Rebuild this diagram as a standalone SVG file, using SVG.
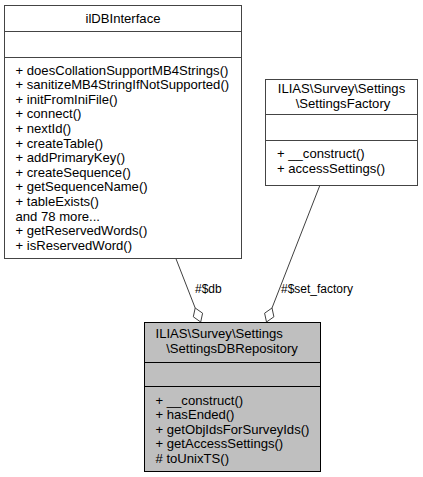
<svg xmlns="http://www.w3.org/2000/svg" width="423" height="477" viewBox="0 0 423 477">
<style>
text{font-family:"Liberation Sans",Arial,sans-serif;font-size:13.1px;fill:#000}
.box{fill:#fff;stroke:#444;stroke-width:1}
.main{fill:#bfbfbf;stroke:#000;stroke-width:1}
.div{stroke:#444;stroke-width:1}
.divm{stroke:#000;stroke-width:1}
.c{text-anchor:middle}
.edge{stroke:#404040;stroke-width:1;fill:none}
.dia{stroke:#404040;stroke-width:1;fill:#fff}
.lbl{font-size:12px}
</style>
<rect width="423" height="477" fill="#fff"/>
<g id="connectors">
<path class="edge" d="M175.7,258 L195.2,308"/>
<polygon class="dia" points="195.2,308 202.6,313.2 200.7,322 193.3,316.8"/>
<text class="lbl" x="195" y="293">#$db</text>
<path class="edge" d="M320,185 L272,308"/>
<polygon class="dia" points="272,308 273.9,316.8 266.5,322 264.6,313.2"/>
<text class="lbl" x="281" y="293">#$set_factory</text>
</g>
<g id="ilDBInterface">
<rect class="box" x="4.5" y="5.5" width="237" height="253"/>
<line class="div" x1="4.5" y1="31.5" x2="241.5" y2="31.5"/>
<line class="div" x1="4.5" y1="57.5" x2="241.5" y2="57.5"/>
<text class="c" x="123" y="22.5">ilDBInterface</text>
<text x="15.5" y="74.5">+ doesCollationSupportMB4Strings()</text>
<text x="15.5" y="89.1">+ sanitizeMB4StringIfNotSupported()</text>
<text x="15.5" y="103.7">+ initFromIniFile()</text>
<text x="15.5" y="118.3">+ connect()</text>
<text x="15.5" y="132.9">+ nextId()</text>
<text x="15.5" y="147.5">+ createTable()</text>
<text x="15.5" y="162.1">+ addPrimaryKey()</text>
<text x="15.5" y="176.7">+ createSequence()</text>
<text x="15.5" y="191.3">+ getSequenceName()</text>
<text x="15.5" y="205.9">+ tableExists()</text>
<text x="15.5" y="220.5">and 78 more...</text>
<text x="15.5" y="235.1">+ getReservedWords()</text>
<text x="15.5" y="249.7">+ isReservedWord()</text>
</g>
<g id="SettingsFactory">
<rect class="box" x="265.5" y="79.5" width="152" height="106"/>
<line class="div" x1="265.5" y1="114.5" x2="417.5" y2="114.5"/>
<line class="div" x1="265.5" y1="140.5" x2="417.5" y2="140.5"/>
<text class="c" x="341.5" y="93">ILIAS\Survey\Settings</text>
<text class="c" x="343" y="107.5">\SettingsFactory</text>
<text x="277" y="158">+ __construct()</text>
<text x="277" y="172.6">+ accessSettings()</text>
</g>
<g id="SettingsDBRepository">
<rect class="main" x="144.5" y="322.5" width="176" height="149"/>
<line class="divm" x1="144.5" y1="362.5" x2="320.5" y2="362.5"/>
<line class="divm" x1="144.5" y1="386.5" x2="320.5" y2="386.5"/>
<text x="155.5" y="338">ILIAS\Survey\Settings</text>
<text class="c" x="232" y="352.6">\SettingsDBRepository</text>
<text x="155.5" y="404.5">+ __construct()</text>
<text x="155.5" y="419.1">+ hasEnded()</text>
<text x="155.5" y="433.7">+ getObjIdsForSurveyIds()</text>
<text x="155.5" y="448.3">+ getAccessSettings()</text>
<text x="155.5" y="462.9"># toUnixTS()</text>
</g>
</svg>
